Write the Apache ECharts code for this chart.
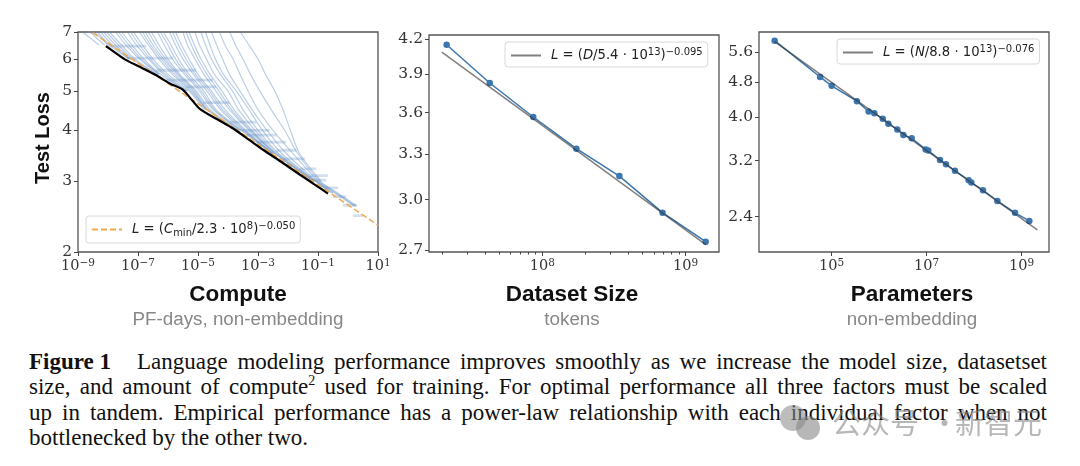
<!DOCTYPE html>
<html>
<head>
<meta charset="utf-8">
<title>Figure 1</title>
<style>
html, body { margin: 0; background: #fff; }
#graph { position: absolute; left: 0; top: 0; width: 1080px; height: 466px; }
#caption { position: absolute; left: 29px; top: 348.5px; width: 1018px; font: 23px/25.6px "Liberation Serif", serif; color: #111; }
#caption div { text-align: justify; text-align-last: justify; white-space: nowrap; }
#caption div:last-child { text-align-last: left; }
#caption b { display: inline-block; margin-right: 26px; }
#caption sup { font-size: 14px; line-height: 0; }
</style>
</head>
<body>
<div id="caption">
	<div><b>Figure 1</b>Language modeling performance improves smoothly as we increase the model size, datasetset</div>
	<div>size, and amount of compute<sup>2</sup> used for training. For optimal performance all three factors must be scaled</div>
	<div>up in tandem. Empirical performance has a power-law relationship with each individual factor when not</div>
	<div>bottlenecked by the other two.</div>
</div>
<div id="graph"></div>
<script src="https://cdnjs.cloudflare.com/ajax/libs/echarts/6.0.0/echarts.min.js"></script>
<script>
// compute panel: x values are log10(PF-days)
const lossLevels = [7, 6.5, 6, 5.5, 5, 4.5, 4, 3.5, 3, 2.8, 2.6];
// each run: log10 compute at which it crosses lossLevels, stops where it ends
const runCrossings = [
	[-8.85, -8.3],
	[-8.6, -8.12],
	[-8.45, -8.0],
	[-8.35, -7.95, -7.3],
	[-8.25, -7.85, -7.28],
	[-8.15, -7.75, -7.25],
	[-8.05, -7.65, -7.18, -6.38],
	[-7.95, -7.55, -7.1, -6.35],
	[-7.75, -7.4, -6.95, -6.3],
	[-7.65, -7.3, -6.88, -6.28],
	[-7.55, -7.2, -6.8, -6.25, -5.4],
	[-7.35, -7.05, -6.65, -6.15, -5.38],
	[-7.25, -6.95, -6.58, -6.08, -5.34],
	[-7.15, -6.85, -6.5, -6.0, -5.3, -4.8],
	[-6.95, -6.65, -6.3, -5.85, -5.25, -4.75],
	[-6.85, -6.58, -6.22, -5.78, -5.2, -4.72],
	[-6.75, -6.5, -6.15, -5.7, -5.15, -4.7, -3.7],
	[-6.65, -6.4, -6.08, -5.65, -5.1, -4.65, -3.68],
	[-6.55, -6.3, -6.0, -5.6, -5.05, -4.6, -3.65],
	[-6.35, -6.12, -5.85, -5.45, -4.95, -4.5, -3.6],
	[-6.25, -6.0, -5.75, -5.38, -4.88, -4.45, -3.58],
	[-6.15, -5.9, -5.65, -5.3, -4.8, -4.4, -3.55, -2.55],
	[-5.95, -5.75, -5.5, -5.15, -4.7, -4.25, -3.5, -2.5],
	[-5.85, -5.65, -5.4, -5.08, -4.62, -4.18, -3.45, -2.52],
	[-5.75, -5.55, -5.3, -5.0, -4.55, -4.1, -3.4, -2.5],
	[-5.5, -5.35, -5.1, -4.8, -4.4, -3.95, -3.3, -2.45],
	[-5.4, -5.22, -5.0, -4.7, -4.3, -3.88, -3.25, -2.42, -1.18],
	[-5.3, -5.12, -4.9, -4.6, -4.2, -3.8, -3.2, -2.4, -1.15],
	[-5.1, -4.95, -4.72, -4.45, -4.0, -3.65, -3.1, -2.35, -1.15],
	[-4.9, -4.75, -4.55, -4.25, -3.85, -3.5, -3.0, -2.3, -1.1, -0.55],
	[-4.75, -4.6, -4.42, -4.15, -3.72, -3.3, -2.85, -2.2, -1.1, -0.5],
	[-4.55, -4.38, -4.18, -3.95, -3.6, -3.2, -2.7, -2.05, -1.05, -0.45, 0.2],
	[-4.28, -4.1, -3.83, -3.6, -3.33, -3.0, -2.5, -1.83, -1.0, -0.4, 0.25],
	[-3.94, -3.75, -3.5, -3.25, -2.94, -2.56, -2.11, -1.67, -0.95, -0.35, 0.3],
	[-3.59, -3.3, -3.0, -2.75, -2.44, -2.17, -1.92, -1.61, -0.9]
];
// flat tails at the end of the runs
const tailLoss = [6.46, 6.03, 5.63, 5.32, 5.12, 4.68, 4.19, 4.0, 3.89, 3.74, 3.57, 3.4, 3.21, 3.09, 3.01, 2.88, 2.74, 2.61, 2.46];
const tailFrom = [-8.06, -7.39, -6.39, -6.06, -5.39, -4.83, -3.94, -3.61, -3.39, -3.06, -2.39, -2.17, -1.61, -1.28, -1.17, -0.94, -0.5, -0.17, 0.17];
const tailTo = [-6.72, -5.83, -5.06, -4.5, -4.39, -3.94, -3.06, -2.61, -2.39, -2.06, -1.72, -1.44, -1.06, -0.67, -0.72, -0.33, -0.06, 0.28, 0.5];
const frontierX = [-8.07, -7.89, -7.44, -6.94, -6.39, -5.94, -5.52, -5.28, -4.94, -4.39, -3.83, -3.28, -2.83, -2.17, -1.61, -1.06, -0.67];
const frontierLoss = [6.46, 6.32, 5.99, 5.74, 5.47, 5.22, 5.05, 4.83, 4.52, 4.27, 4.04, 3.78, 3.58, 3.32, 3.11, 2.92, 2.79];
const computeFitX = [1e-9, 10];
const computeFitLoss = [7.38, 2.33];

const datasetSize = [2.15e7, 4.3e7, 8.65e7, 1.73e8, 3.45e8, 6.9e8, 1.38e9];
const datasetLoss = [4.15, 3.83, 3.567, 3.338, 3.152, 2.92, 2.748];
const datasetFitX = [1.99e7, 1.39e9];
const datasetFitLoss = [4.085, 2.73];

const paramCount = [6.3e3, 5.7e4, 1e5, 3.4e5, 6e5, 7.9e5, 1.19e6, 1.56e6, 2.41e6, 3.23e6, 4.83e6, 9.5e6, 1.08e7, 1.91e7, 2.55e7, 3.94e7, 7.66e7, 8.71e7, 1.53e8, 3.08e8, 7.24e8, 1.45e9];
const paramLoss = [5.93, 4.92, 4.7, 4.345, 4.12, 4.08, 3.97, 3.87, 3.755, 3.65, 3.59, 3.39, 3.37, 3.21, 3.14, 3.036, 2.893, 2.859, 2.748, 2.6, 2.446, 2.347];
const paramFitX = [6.3e3, 2.14e9];
const paramFitLoss = [5.9, 2.24];

const computeTicks = [1e-9, 1e-7, 1e-5, 1e-3, 1e-1, 10];
const computeLossTicks = [2, 3, 4, 5, 6, 7];
const datasetTicks = [1e8, 1e9];
const datasetMinorTicks = [2e7, 3e7, 4e7, 5e7, 6e7, 7e7, 8e7, 9e7, 2e8, 3e8, 4e8, 5e8, 6e8, 7e8, 8e8, 9e8];
const datasetLossTicks = [2.7, 3.0, 3.3, 3.6, 3.9, 4.2];
const paramTicks = [1e5, 1e7, 1e9];
const paramLossTicks = [2.4, 3.2, 4.0, 4.8, 5.6];

const chart = echarts.init(document.getElementById('graph'));

const SERIF = '"DejaVu Serif", serif';
const SANS = '"Liberation Sans", Arial, sans-serif';
const MATH = '"DejaVu Sans", sans-serif';

function zip(xs, ys) {
	return xs.map((x, i) => [x, ys[i]]);
}

function powerLabel(v) {
	let e = Math.round(Math.log10(v));
	return '10{sup|' + String(e).replace('-', '\u2212') + '}';
}

function xAxis(gridIndex, min, max, ticks) {
	return {
		type: 'log', logBase: 10, gridIndex: gridIndex, min: min, max: max, position: 'bottom',
		axisLine: { show: false },
		splitLine: { show: false },
		minorTick: { show: false },
		axisTick: { show: true, length: 4, customValues: ticks, lineStyle: { color: '#444' } },
		axisLabel: {
			show: true, customValues: ticks, formatter: powerLabel, margin: 6,
			color: '#333', fontFamily: SERIF, fontSize: 14.5,
			rich: { sup: { fontFamily: SERIF, fontSize: 10.5, verticalAlign: 'top', padding: [0, 0, 6, 0], color: '#333' } }
		}
	};
}

function yAxis(gridIndex, min, max, ticks, digits) {
	return {
		type: 'log', logBase: 10, gridIndex: gridIndex, min: min, max: max,
		axisLine: { show: false },
		splitLine: { show: false },
		minorTick: { show: false },
		axisTick: { show: true, length: 4, customValues: ticks, lineStyle: { color: '#444' } },
		axisLabel: {
			show: true, customValues: ticks, margin: 6,
			formatter: v => Number(v).toFixed(digits),
			color: '#333', fontFamily: SERIF, fontSize: 15.5
		}
	};
}

function legend(name, left, top, label) {
	return {
		data: [name], left: left, top: top, orient: 'horizontal',
		padding: [5, 5, 5, 5], itemWidth: 30, itemHeight: 2, itemGap: 0,
		backgroundColor: '#fff', borderColor: '#d8d8d8', borderWidth: 1, borderRadius: 3,
		itemStyle: { color: 'transparent', borderWidth: 0 },
		formatter: () => label,
		textStyle: {
			fontFamily: MATH, fontSize: 13.2, color: '#222', padding: [0, 0, 0, 5],
			rich: {
				i: { fontStyle: 'italic', fontFamily: MATH, fontSize: 13.2, color: '#222' },
				sup: { fontFamily: MATH, fontSize: 10, verticalAlign: 'top', padding: [0, 0, 7, 0], color: '#222' },
				sub: { fontFamily: MATH, fontSize: 10, verticalAlign: 'bottom', padding: [6, 0, 0, 0], color: '#222' }
			}
		}
	};
}

function line(name, data, axis, color, width, extra) {
	return Object.assign({
		name: name, type: 'line', data: data, xAxisIndex: axis, yAxisIndex: axis,
		showSymbol: false, symbol: 'none', silent: true, animation: false,
		lineStyle: { color: color, width: width },
		itemStyle: { color: color }
	}, extra);
}

function panelText(x, y, text, size, weight, color) {
	return {
		type: 'text', x: x, y: y,
		style: { text: text, fill: color, font: weight + ' ' + size + 'px ' + SANS, align: 'center', verticalAlign: 'middle' }
	};
}

function markText(x, text) {
	return {
		type: 'text', x: x, y: 423,
		style: { text: text, fill: 'rgba(135,135,135,0.6)', font: '29px "Noto Sans CJK SC"', verticalAlign: 'middle' }
	};
}

let series = [];

// training runs
runCrossings.forEach((xs, i) => {
	let points = xs.map((e, j) => [Math.pow(10, e), lossLevels[j]]);
	series.push(line('run' + i, points, 0, 'rgba(72,122,182,0.36)', 1.2, { smooth: 0.3, z: 2 }));
});
tailLoss.forEach((l, i) => {
	let points = [[Math.pow(10, tailFrom[i]), l], [Math.pow(10, tailTo[i]), l]];
	series.push(line('tail' + i, points, 0, 'rgba(72,122,182,0.24)', 2.8, { z: 2 }));
});
series.push(line('Computefit', zip(computeFitX, computeFitLoss), 0, '#efa94a', 1.5, {
	z: 3, lineStyle: { color: '#efa94a', width: 1.5, type: [6, 3] }
}));
series.push(line('frontier', zip(frontierX.map(e => Math.pow(10, e)), frontierLoss), 0, '#000', 2.2, { smooth: 0.25, z: 4 }));

// dataset size and parameters: points with a grey fit on top
[[1, datasetSize, datasetLoss, datasetFitX, datasetFitLoss, 'Datasetfit'],
	[2, paramCount, paramLoss, paramFitX, paramFitLoss, 'Paramfit']].forEach(p => {
	series.push(line('pts' + p[0], zip(p[1], p[2]), p[0], '#3b76b0', 1.5, {
		showSymbol: true, symbol: 'circle', symbolSize: 6.5, z: 3
	}));
	series.push(line(p[5], zip(p[3], p[4]), p[0], 'rgba(50,50,50,0.62)', 1.5, { z: 4 }));
});

chart.setOption({
	backgroundColor: 'transparent',
	animation: false,
	grid: [
		{ left: 78, top: 32, width: 300, height: 220 },
		{ left: 429, top: 35, width: 290, height: 217 },
		{ left: 759, top: 32, width: 290, height: 220 }
	].map(g => Object.assign(g, { show: true, borderColor: '#555', borderWidth: 1.3, backgroundColor: 'transparent' })),
	xAxis: [
		xAxis(0, 1e-9, 10, computeTicks),
		xAxis(1, 1.62e7, 1.71e9, datasetTicks),
		xAxis(2, 2950, 3.76e9, paramTicks),
		Object.assign(xAxis(1, 1.62e7, 1.71e9, datasetMinorTicks), {
			axisLabel: { show: false },
			axisTick: { show: true, length: 2.5, customValues: datasetMinorTicks, lineStyle: { color: '#444' } }
		})
	],
	yAxis: [
		yAxis(0, 2, 7, computeLossTicks, 0),
		yAxis(1, 2.689, 4.235, datasetLossTicks, 1),
		yAxis(2, 2.0, 6.2, paramLossTicks, 1)
	],
	legend: [
		legend('Computefit', 86, 216, '{i|L} = ({i|C}{sub|min}/2.3 · 10{sup|8}){sup|\u22120.050}'),
		legend('Datasetfit', 505, 42, '{i|L} = ({i|D}/5.4 · 10{sup|13}){sup|\u22120.095}'),
		legend('Paramfit', 837, 39, '{i|L} = ({i|N}/8.8 · 10{sup|13}){sup|\u22120.076}')
	],
	series: series,
	graphic: [
		panelText(238, 295, 'Compute', 22.5, 'bold', '#111'),
		panelText(238, 320, 'PF-days, non-embedding', 18.8, 'normal', '#888'),
		panelText(572, 295, 'Dataset Size', 22.5, 'bold', '#111'),
		panelText(572, 320, 'tokens', 18.8, 'normal', '#888'),
		panelText(912, 295, 'Parameters', 22.5, 'bold', '#111'),
		panelText(912, 320, 'non-embedding', 18.8, 'normal', '#888'),
		{
			type: 'text', x: 43, y: 138, rotation: Math.PI / 2,
			style: { text: 'Test Loss', fill: '#111', font: 'bold 20px ' + SANS, align: 'center', verticalAlign: 'middle' }
		},
		// watermark
		{ type: 'circle', shape: { cx: 793, cy: 418, r: 13 }, style: { fill: 'rgba(135,135,135,0.55)' } },
		{ type: 'circle', shape: { cx: 808, cy: 428, r: 12 }, style: { fill: 'rgba(135,135,135,0.6)' } },
		markText(832, '公众号'),
		markText(930, '·'),
		markText(955, '新智元')
	]
});
</script>
</body>
</html>
